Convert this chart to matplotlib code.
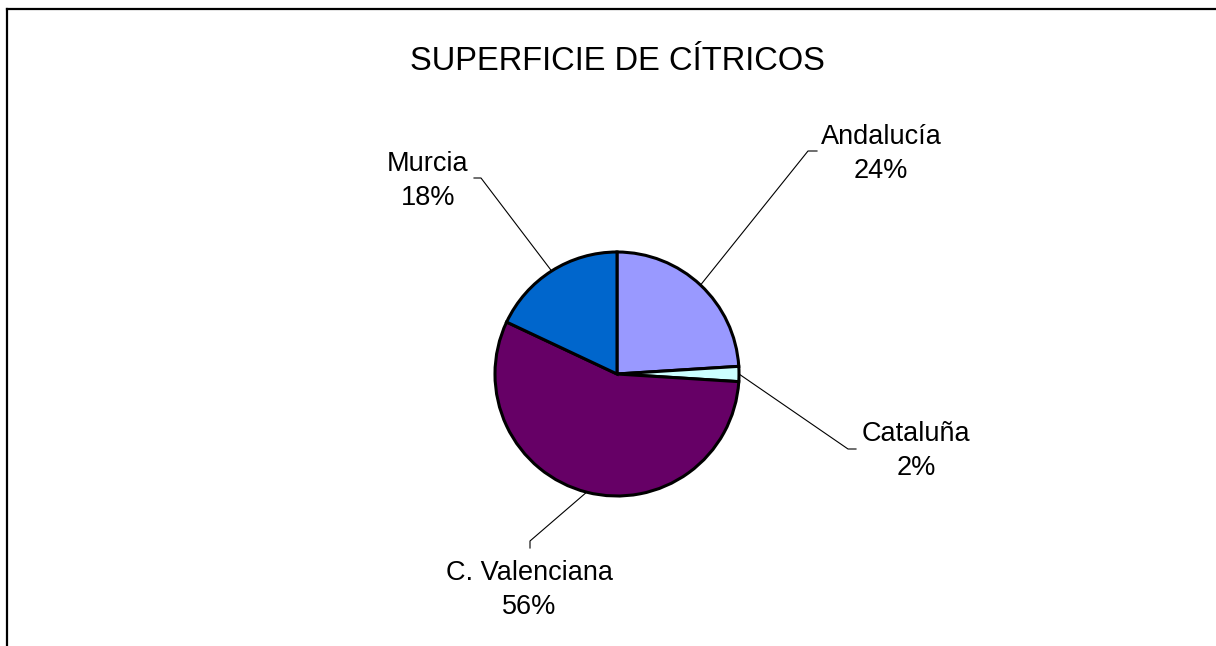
import numpy as np
import matplotlib
matplotlib.use("Agg")
import matplotlib.pyplot as plt
from matplotlib.lines import Line2D

# --- data ---
regions = ["Andalucía", "Cataluña", "C. Valenciana", "Murcia"]
shares = [24, 2, 56, 18]
colors = ["#9999FF", "#CCFFFF", "#660066", "#0066CC"]
title = "SUPERFICIE DE CÍTRICOS"

# --- layout (pixel coords, y measured from top) ---
W, H = 1216, 646
pie_center = (617, 374)
pie_radius = 122
label_pos = [(881, 154), (916, 451), (529, 590), (428, 181)]
elbow_pos = [(808, 151), (848, 449), (530, 541), (481, 178)]
tail_pos = [(817, 151), (856, 449), (530, 548), (474, 178)]

plt.rcParams["font.family"] = ["Liberation Sans", "DejaVu Sans"]

fig = plt.figure(figsize=(W / 100, H / 100), dpi=100)
ax = fig.add_axes([0, 0, 1, 1])

cx, cy = pie_center[0], H - pie_center[1]
wedges, _ = ax.pie(shares, colors=colors, startangle=90, counterclock=False,
                   center=(cx, cy), radius=pie_radius, frame=True,
                   wedgeprops=dict(edgecolor="black", linewidth=2.2))
ax.set_xlim(0, W)
ax.set_ylim(0, H)
ax.set_aspect("equal")
ax.axis("off")

# leader lines start at the wedge's mid-angle on the rim
for w, name, val, lp, ep, tp in zip(wedges, regions, shares, label_pos, elbow_pos, tail_pos):
    mid = np.deg2rad((w.theta1 + w.theta2) / 2)
    sx = cx + pie_radius * np.cos(mid)
    sy = cy + pie_radius * np.sin(mid)
    ax.plot([sx, ep[0], tp[0]], [sy, H - ep[1], H - tp[1]], color="black", lw=0.8)
    ax.text(lp[0], H - lp[1], f"{name}\n{val}%", ha="center", va="center",
            fontsize=19.5, linespacing=1.42)

ax.text(617, H - 61, title, ha="center", va="center", fontsize=23.5)

# chart frame (runs off the right and bottom edges)
fig.add_artist(Line2D([7 / W, 1.01], [1 - 9 / H, 1 - 9 / H], color="black", lw=1.6,
                      transform=fig.transFigure))
fig.add_artist(Line2D([7 / W, 7 / W], [1 - 9 / H, -0.01], color="black", lw=1.6,
                      transform=fig.transFigure))

fig.savefig("out.png", dpi=100)
